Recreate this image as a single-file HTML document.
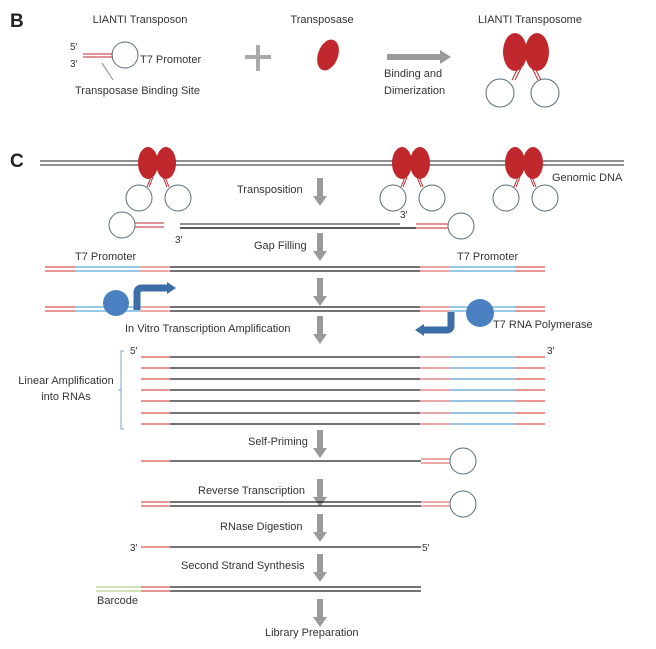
<!DOCTYPE html>
<html><head><meta charset="utf-8"><style>
html,body{margin:0;padding:0;background:#fff;}
svg{display:block;}
text{font-family:"Liberation Sans",sans-serif;font-size:11px;fill:#333;}
</style></head><body>
<svg width="656" height="649" viewBox="0 0 656 649" xmlns="http://www.w3.org/2000/svg">
<defs>
<g id="gar"><rect x="-3" y="0" width="6" height="20" fill="#9a9a9a"/><polygon points="-7,18 7,18 0,28" fill="#9a9a9a"/></g>
<g id="tsome">
<line x1="-6" y1="14" x2="-10" y2="24" stroke="#c0282d" stroke-width="1"/><line x1="-4" y1="14" x2="-8" y2="24" stroke="#c0282d" stroke-width="1"/>
<line x1="6" y1="14" x2="10" y2="24" stroke="#c0282d" stroke-width="1"/><line x1="8" y1="14" x2="12" y2="24" stroke="#c0282d" stroke-width="1"/>
<ellipse cx="-9" cy="0" rx="10" ry="16" fill="#c0282d"/><ellipse cx="9" cy="0" rx="10" ry="16" fill="#c0282d"/>
<circle cx="-18" cy="35" r="13" fill="none" stroke="#5a6d7a" stroke-width="1"/>
<circle cx="21" cy="35" r="13" fill="none" stroke="#5a6d7a" stroke-width="1"/>
</g>
</defs>
<text x="10" y="27" style="font-size:19px;font-weight:bold;fill:#222">B</text>
<text x="10" y="167" style="font-size:19px;font-weight:bold;fill:#222">C</text>

<!-- Section B -->
<text x="140" y="23" text-anchor="middle">LIANTI Transposon</text>
<text x="322" y="23" text-anchor="middle">Transposase</text>
<text x="530" y="23" text-anchor="middle">LIANTI Transposome</text>
<text x="70" y="50" style="font-size:10px">5′</text>
<text x="70" y="67" style="font-size:10px">3′</text>
<line x1="83" y1="54" x2="113" y2="54" stroke="#c0282d"/><line x1="83" y1="57" x2="113" y2="57" stroke="#c0282d"/>
<circle cx="125" cy="55" r="13" fill="none" stroke="#5a6d7a"/>
<text x="140" y="63">T7 Promoter</text>
<line x1="102" y1="63" x2="113" y2="80" stroke="#888"/>
<text x="75" y="94">Transposase  Binding Site</text>
<rect x="245" y="55" width="26" height="4" fill="#aaa"/><rect x="256" y="45" width="4" height="26" fill="#aaa"/>
<ellipse cx="328" cy="55" rx="10" ry="16" transform="rotate(20 328 55)" fill="#c0282d"/>
<rect x="387" y="54" width="53" height="6" fill="#9a9a9a"/><polygon points="440,50 451,57 440,64" fill="#9a9a9a"/>
<text x="384" y="77">Binding and</text>
<text x="384" y="94">Dimerization</text>
<g>
<line x1="518" y1="68" x2="512" y2="80" stroke="#c0282d"/><line x1="521" y1="68" x2="515" y2="80" stroke="#c0282d"/>
<line x1="532" y1="68" x2="538" y2="80" stroke="#c0282d"/><line x1="535" y1="68" x2="541" y2="80" stroke="#c0282d"/>
<ellipse cx="515" cy="52" rx="12" ry="19" fill="#c0282d"/><ellipse cx="537" cy="52" rx="12" ry="19" fill="#c0282d"/>
<circle cx="500" cy="93" r="14" fill="none" stroke="#5a6d7a"/>
<circle cx="545" cy="93" r="14" fill="none" stroke="#5a6d7a"/>
</g>

<!-- Genomic DNA -->
<line x1="40" y1="161" x2="624" y2="161" stroke="#222"/><line x1="40" y1="165" x2="624" y2="165" stroke="#222"/>
<use href="#tsome" transform="translate(157,163)"/>
<use href="#tsome" transform="translate(411,163)"/>
<use href="#tsome" transform="translate(524,163)"/>
<text x="552" y="181">Genomic DNA</text>

<use href="#gar" transform="translate(320,178)"/>
<text x="237" y="193">Transposition</text>

<circle cx="122" cy="225" r="13" fill="none" stroke="#5a6d7a"/>
<line x1="135" y1="223" x2="164" y2="223" stroke="#c0282d"/><line x1="135" y1="227" x2="164" y2="227" stroke="#c0282d"/>
<line x1="180" y1="224" x2="400" y2="224" stroke="#222"/><line x1="180" y1="228" x2="416" y2="228" stroke="#222" stroke-width="1.6"/>
<line x1="416" y1="224" x2="448" y2="224" stroke="#c0282d"/><line x1="416" y1="228" x2="448" y2="228" stroke="#c0282d"/>
<circle cx="461" cy="226" r="13" fill="none" stroke="#5a6d7a"/>
<text x="400" y="218" style="font-size:10px">3′</text>
<text x="175" y="243" style="font-size:10px">3′</text>

<use href="#gar" transform="translate(320,233)"/>
<text x="254" y="249">Gap Filling</text>
<text x="75" y="260">T7 Promoter</text>
<text x="457" y="260">T7 Promoter</text>

<g id="dsrow">
<g stroke-width="1.3">
<line x1="45" y1="267" x2="75" y2="267" stroke="#d9534f"/><line x1="75" y1="267" x2="140" y2="267" stroke="#5aa9d6"/><line x1="140" y1="267" x2="170" y2="267" stroke="#e07070"/><line x1="170" y1="267" x2="420" y2="267" stroke="#222"/><line x1="420" y1="267" x2="450" y2="267" stroke="#e07070"/><line x1="450" y1="267" x2="515" y2="267" stroke="#5aa9d6"/><line x1="515" y1="267" x2="545" y2="267" stroke="#d9534f"/>
<line x1="45" y1="271" x2="75" y2="271" stroke="#d9534f"/><line x1="75" y1="271" x2="140" y2="271" stroke="#5aa9d6"/><line x1="140" y1="271" x2="170" y2="271" stroke="#e07070"/><line x1="170" y1="271" x2="420" y2="271" stroke="#222"/><line x1="420" y1="271" x2="450" y2="271" stroke="#e07070"/><line x1="450" y1="271" x2="515" y2="271" stroke="#5aa9d6"/><line x1="515" y1="271" x2="545" y2="271" stroke="#d9534f"/>
</g></g>
<use href="#gar" transform="translate(320,278)"/>
<use href="#dsrow" transform="translate(0,40)"/>
<circle cx="116" cy="303" r="13" fill="#4a7fc1"/>
<path d="M137,310 L137,293 Q137,288 142,288 L168,288" fill="none" stroke="#3c6ea8" stroke-width="7"/>
<polygon points="167,282 176,288 167,294" fill="#3c6ea8"/>
<path d="M451,312 L451,326 Q451,330 446,330 L423,330" fill="none" stroke="#3c6ea8" stroke-width="7"/>
<polygon points="424,324 415,330 424,336" fill="#3c6ea8"/>
<circle cx="480" cy="313" r="14" fill="#4a7fc1"/>
<text x="493" y="328">T7 RNA Polymerase</text>
<use href="#gar" transform="translate(320,316)"/>
<text x="125" y="332">In Vitro Transcription Amplification</text>

<g id="rna" stroke-width="1.3">
<line x1="141" y1="357" x2="170" y2="357" stroke="#d9534f"/><line x1="170" y1="357" x2="420" y2="357" stroke="#222"/><line x1="420" y1="357" x2="450" y2="357" stroke="#e07070"/><line x1="450" y1="357" x2="515" y2="357" stroke="#5a9fd0"/><line x1="515" y1="357" x2="545" y2="357" stroke="#d9534f"/>
</g>
<use href="#rna" transform="translate(0,11)"/><use href="#rna" transform="translate(0,22)"/><use href="#rna" transform="translate(0,33)"/><use href="#rna" transform="translate(0,44)"/><use href="#rna" transform="translate(0,56)"/><use href="#rna" transform="translate(0,67)"/>
<text x="130" y="354" style="font-size:10px">5′</text>
<text x="547" y="354" style="font-size:10px">3′</text>
<path d="M124,351 L121,351 L121,429 L124,429 M121,390 L118,390" fill="none" stroke="#7aa6cc"/>
<text x="66" y="384" text-anchor="middle">Linear Amplification</text>
<text x="66" y="400" text-anchor="middle">into RNAs</text>

<use href="#gar" transform="translate(320,430)"/>
<text x="248" y="445">Self-Priming</text>
<line x1="141" y1="461" x2="170" y2="461" stroke="#d9534f" stroke-width="1.3"/><line x1="170" y1="461" x2="421" y2="461" stroke="#222" stroke-width="1.3"/>
<line x1="421" y1="459" x2="450" y2="459" stroke="#d9534f"/><line x1="421" y1="463" x2="450" y2="463" stroke="#d9534f"/>
<circle cx="463" cy="461" r="13" fill="none" stroke="#5a6d7a"/>

<use href="#gar" transform="translate(320,479)"/>
<text x="198" y="494">Reverse Transcription</text>
<line x1="141" y1="502" x2="170" y2="502" stroke="#d9534f" stroke-width="1.3"/><line x1="141" y1="506" x2="170" y2="506" stroke="#d9534f" stroke-width="1.3"/>
<line x1="170" y1="502" x2="421" y2="502" stroke="#222" stroke-width="1.3"/><line x1="170" y1="506" x2="421" y2="506" stroke="#222" stroke-width="1.3"/>
<line x1="421" y1="502" x2="450" y2="502" stroke="#d9534f"/><line x1="421" y1="506" x2="450" y2="506" stroke="#d9534f"/>
<circle cx="463" cy="504" r="13" fill="none" stroke="#5a6d7a"/>

<use href="#gar" transform="translate(320,514)"/>
<text x="220" y="530">RNase Digestion</text>
<text x="130" y="551" style="font-size:10px">3′</text>
<line x1="141" y1="547" x2="170" y2="547" stroke="#d9534f" stroke-width="1.3"/><line x1="170" y1="547" x2="421" y2="547" stroke="#222" stroke-width="1.3"/>
<text x="422" y="551" style="font-size:10px">5′</text>

<use href="#gar" transform="translate(320,554)"/>
<text x="181" y="569">Second Strand Synthesis</text>
<line x1="96" y1="587" x2="141" y2="587" stroke="#b5cf8a" stroke-width="1.3"/><line x1="96" y1="591" x2="141" y2="591" stroke="#b5cf8a" stroke-width="1.3"/>
<line x1="141" y1="587" x2="170" y2="587" stroke="#d9534f" stroke-width="1.3"/><line x1="141" y1="591" x2="170" y2="591" stroke="#d9534f" stroke-width="1.3"/>
<line x1="170" y1="587" x2="421" y2="587" stroke="#222" stroke-width="1.3"/><line x1="170" y1="591" x2="421" y2="591" stroke="#222" stroke-width="1.3"/>
<text x="97" y="604">Barcode</text>

<use href="#gar" transform="translate(320,599)"/>
<text x="265" y="636">Library Preparation</text>
</svg>
</body></html>
